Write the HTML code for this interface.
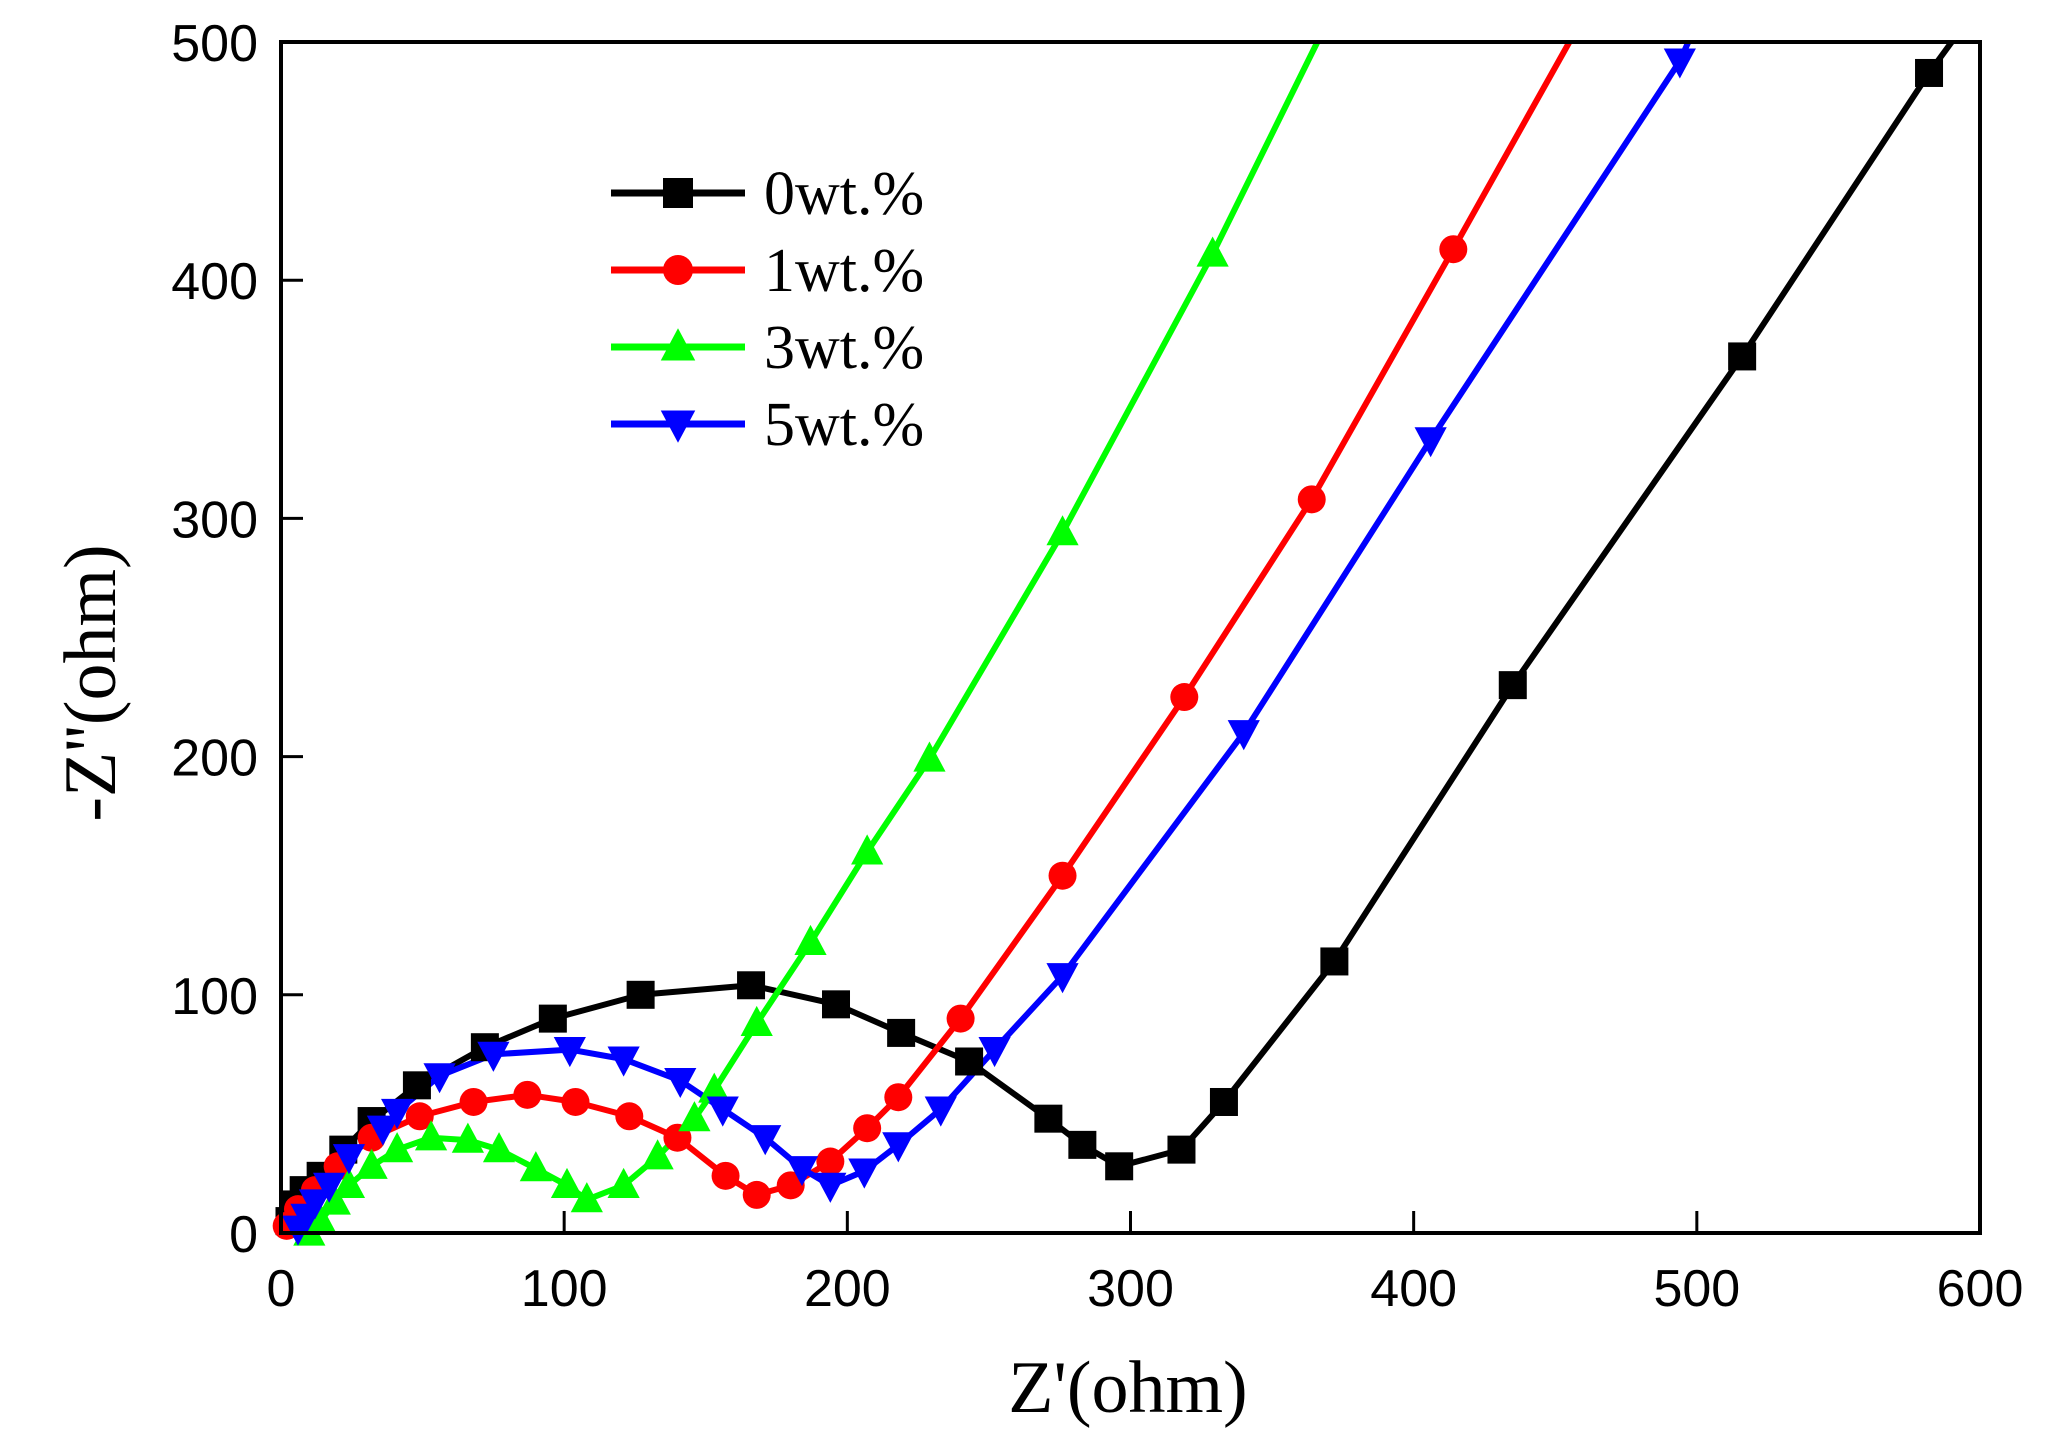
<!DOCTYPE html>
<html><head><meta charset="utf-8"><style>
html,body{margin:0;padding:0;background:#fff;}
svg{display:block;}
.t{font-family:"Liberation Sans",sans-serif;font-size:52px;fill:#000;}
.s{font-family:"Liberation Serif",serif;fill:#000;}
</style></head><body>
<svg id="c" width="2062" height="1444" viewBox="0 0 2062 1444" xmlns="http://www.w3.org/2000/svg">
<rect width="2062" height="1444" fill="#fff"/>
<g id="plot"></g>
<rect x="281" y="42" width="1699" height="1191" fill="none" stroke="#000" stroke-width="4"/>
<g id="ticks" stroke="#000" stroke-width="3"></g>
<g class="t" text-anchor="middle" id="xl"></g>
<g class="t" text-anchor="end" id="yl"></g>
<text class="s" x="1128" y="1412" font-size="74" text-anchor="middle">Z'(ohm)</text>
<text class="s" x="0" y="0" font-size="74" text-anchor="middle" transform="translate(115,683) rotate(-90)">-Z''(ohm)</text>
<g id="leg"></g>
<g class="s" font-size="62">
<text x="764" y="214">0wt.%</text><text x="764" y="291">1wt.%</text><text x="764" y="368">3wt.%</text><text x="764" y="445">5wt.%</text>
</g>
</svg>
<script>
const X=v=>281+v*1699/600, Y=v=>1233-v*1191/500;
const S=[
["#000","sq",[[3,5],[5,12],[8,18],[14,24],[22,35],[32,47],[48,62],[72,78],[96,90],[127,100],[166,104],[196,96],[219,84],[243,72],[271,48],[283,37],[296,28],[318,35],[333,55],[372,114],[435,230],[516,368],[582,487],[590,500]]],
["#f00","ci",[[2,3],[6,10],[12,18],[20,28],[32,40],[49,49],[68,55],[87,58],[104,55],[123,49],[140,40],[157,24],[168,16],[180,20],[194,30],[207,44],[218,57],[240,90],[276,150],[319,225],[364,308],[414,413],[455,500]]],
["#0f0","up",[[10,0],[14,5],[19,13],[24,20],[32,28],[41,35],[53,40],[66,39],[77,35],[90,27],[101,20],[108,14],[121,20],[133,32],[146,48],[153,60],[168,88],[187,122],[207,160],[229,199],[276,294],[329,411],[366,500]]],
["#00f","dn",[[6,2],[9,7],[12,13],[17,20],[24,32],[36,44],[41,51],[56,66],[75,75],[102,77],[121,73],[141,64],[156,52],[171,40],[184,27],[194,20],[206,26],[218,37],[233,52],[252,77],[276,108],[340,210],[406,333],[494,492],[497,500]]]
];
function mk(t,x,y,c,r){
 if(t=="sq")return `<rect x="${x-r}" y="${y-r}" width="${2*r}" height="${2*r}" fill="${c}"/>`;
 if(t=="ci")return `<circle cx="${x}" cy="${y}" r="${r}" fill="${c}"/>`;
 if(t=="up")return `<polygon points="${x},${y-r*1.25} ${x-r*1.15},${y+r*0.9} ${x+r*1.15},${y+r*0.9}" fill="${c}"/>`;
 return `<polygon points="${x},${y+r*1.25} ${x-r*1.15},${y-r*0.9} ${x+r*1.15},${y-r*0.9}" fill="${c}"/>`;
}
let h='';
S.forEach(([c,t,p])=>{
 h+=`<polyline fill="none" stroke="${c}" stroke-width="6" stroke-linejoin="round" points="${p.map(q=>X(q[0])+','+Y(q[1])).join(' ')}"/>`;
});
S.forEach(([c,t,p])=>{p.forEach(q=>{if(q[1]<498)h+=mk(t,X(q[0]),Y(q[1]),c,14);});});
document.getElementById('plot').innerHTML=h;
let tk='',xl='',yl='';
for(let i=0;i<=6;i++){if(i>0&&i<6)tk+=`<line x1="${X(i*100)}" y1="1233" x2="${X(i*100)}" y2="1211"/>`;xl+=`<text x="${X(i*100)}" y="1306">${i*100}</text>`;}
for(let i=0;i<=5;i++){if(i>0&&i<5)tk+=`<line x1="281" y1="${Y(i*100)}" x2="303" y2="${Y(i*100)}"/>`;yl+=`<text x="258" y="${Y(i*100)+19}">${i*100}</text>`;}
document.getElementById('ticks').innerHTML=tk;
document.getElementById('xl').innerHTML=xl;
document.getElementById('yl').innerHTML=yl;
let lg='';
[193,270,347,424].forEach((y,i)=>{const [c,t]=S[i];lg+=`<line x1="611" y1="${y}" x2="745" y2="${y}" stroke="${c}" stroke-width="7"/>`+mk(t,678,y,c,15);});
document.getElementById('leg').innerHTML=lg;
</script>
</body></html>
